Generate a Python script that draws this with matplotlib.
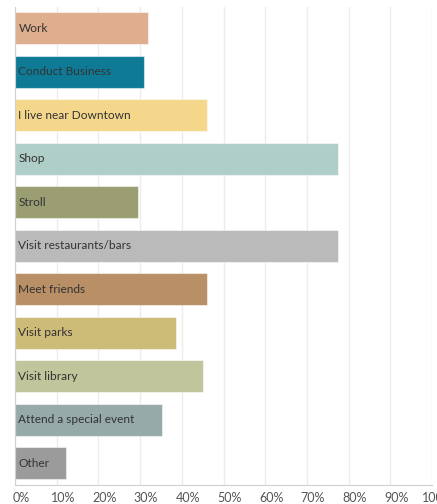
import matplotlib.pyplot as plt
import matplotlib.transforms as mtransforms

# Reasons for visiting downtown (share of respondents, %)
categories = ["Work", "Conduct Business", "I live near Downtown", "Shop", "Stroll",
              "Visit restaurants/bars", "Meet friends", "Visit parks", "Visit library",
              "Attend a special event", "Other"]
values = [32.0, 31.0, 46.0, 77.5, 29.5, 77.5, 46.0, 38.5, 45.2, 35.2, 12.2]
colors = ["#DEAE8E", "#0E7A96", "#F5D78C", "#B0CEC8", "#9A9E72", "#BABABA",
          "#B98F66", "#CDBB78", "#C0C59C", "#97AAAA", "#9B9B9B"]
ticks = list(range(0, 101, 10))
tick_labels = [f"{t}%" for t in ticks]

plt.rcParams['font.family'] = ['Lato', 'DejaVu Sans']

fig = plt.figure(figsize=(4.37, 5.04), dpi=100)
ax = fig.add_axes([15 / 437, 19 / 504, 417 / 437, 478.5 / 504])

y = list(range(len(categories)))
ax.barh(y, values, height=0.745, color=colors, edgecolor=(1, 1, 1, 0.5),
        linewidth=0.8, zorder=2)

# category names sit inside the bars, a few pixels from the axis
text_shift = mtransforms.ScaledTranslation(3.5 / 100, 0, fig.dpi_scale_trans)
for yi, label in zip(y, categories):
    ax.text(0, yi, label, va='center', ha='left', fontsize=8.6, color='#333333',
            zorder=3, transform=ax.transData + text_shift)

ax.set_xlim(0, 100)
ax.set_ylim(len(categories) - 0.5, -0.5)
ax.set_yticks([])
ax.set_xticks(ticks)
ax.set_xticklabels(tick_labels, fontsize=9, color='#555555')
ax.tick_params(axis='x', length=0, pad=5)
# nudge tick labels a little to the right
offset = mtransforms.ScaledTranslation(6 / 100, 0, fig.dpi_scale_trans)
for lbl in ax.get_xticklabels():
    lbl.set_transform(lbl.get_transform() + offset)

ax.grid(axis='x', color='#ECECEC', linewidth=1, zorder=0)
for side in ['top', 'right']:
    ax.spines[side].set_visible(False)
ax.spines['left'].set_color('#D0D0D0')
ax.spines['bottom'].set_color('#D0D0D0')

fig.savefig("out.png", dpi=100)
